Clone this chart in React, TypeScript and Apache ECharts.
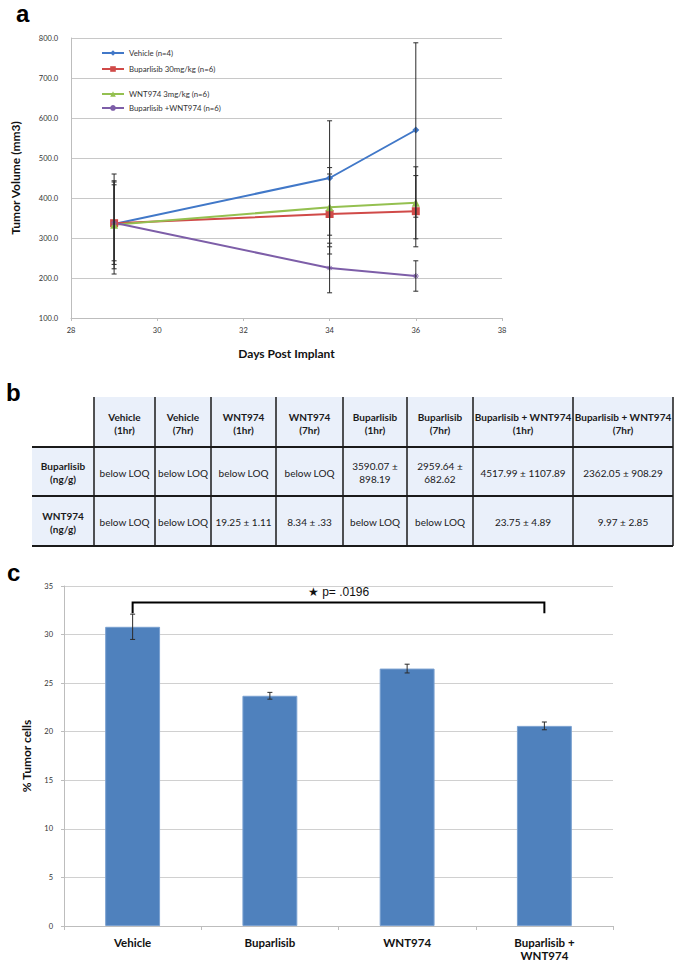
import React, { useEffect, useRef } from "react";
import * as echarts from "echarts";

// ---------- Panel a: tumour volume ----------
const days = [29, 34, 36];
const vehicleVol = [335, 450, 570];
const vehicleErr = [125, 143, 218];
const buparlisibVol = [337, 360, 367];
const buparlisibErr = [103, 100, 89];
const wnt974Vol = [333, 377, 388];
const wnt974Err = [110, 99, 90];
const comboVol = [338, 225, 205];
const comboErr = [95, 62, 38];
const lineNames = [
  "Vehicle (n=4)",
  "Buparlisib 30mg/kg (n=6)",
  "WNT974 3mg/kg (n=6)",
  "Buparlisib +WNT974 (n=6)",
];

// ---------- Panel b: table ----------
const tableHeaders = [
  "Vehicle\n(1hr)",
  "Vehicle\n(7hr)",
  "WNT974\n(1hr)",
  "WNT974\n(7hr)",
  "Buparlisib\n(1hr)",
  "Buparlisib\n(7hr)",
  "Buparlisib + WNT974\n(1hr)",
  "Buparlisib + WNT974\n(7hr)",
];
const rowHeaders = ["Buparlisib\n(ng/g)", "WNT974\n(ng/g)"];
const buparlisibRow = [
  "below LOQ",
  "below LOQ",
  "below LOQ",
  "below LOQ",
  "3590.07 ±\n898.19",
  "2959.64 ±\n682.62",
  "4517.99 ± 1107.89",
  "2362.05 ± 908.29",
];
const wnt974Row = [
  "below LOQ",
  "below LOQ",
  "19.25 ± 1.11",
  "8.34 ± .33",
  "below LOQ",
  "below LOQ",
  "23.75 ± 4.89",
  "9.97 ± 2.85",
];

// ---------- Panel c: % tumour cells ----------
const groups = ["Vehicle", "Buparlisib", "WNT974", "Buparlisib +\nWNT974"];
const tumorPct = [30.8, 23.7, 26.5, 20.6];
const tumorPctErr = [1.3, 0.35, 0.45, 0.4];
const sigFrom = 0;
const sigTo = 3;
const sigLevel = 33.3;
const sigDrop = 32.2;
const sigLabel = "★ p= .0196";

const FONT = "Lato, 'Open Sans', sans-serif";
const ARIAL = "'Liberation Sans', Arial, sans-serif";

function errRender(params: any, api: any) {
  const x = api.value(0);
  const y = api.value(1);
  const e = api.value(2);
  const top = api.coord([x, y + e]);
  const bot = api.coord([x, y - e]);
  const hw = 2.5;
  const st = { stroke: "#2b2b2b", lineWidth: 1 };
  return {
    type: "group",
    children: [
      { type: "line", shape: { x1: top[0], y1: top[1], x2: bot[0], y2: bot[1] }, style: st },
      { type: "line", shape: { x1: top[0] - hw, y1: top[1], x2: top[0] + hw, y2: top[1] }, style: st },
      { type: "line", shape: { x1: bot[0] - hw, y1: bot[1], x2: bot[0] + hw, y2: bot[1] }, style: st },
    ],
  };
}

function bracketRender(params: any, api: any) {
  const a0 = api.coord([api.value(0), api.value(3)]);
  const a1 = api.coord([api.value(0), api.value(2)]);
  const b1 = api.coord([api.value(1), api.value(2)]);
  const b0 = api.coord([api.value(1), api.value(3)]);
  const mid = (a1[0] + b1[0]) / 2;
  return {
    type: "group",
    children: [
      {
        type: "polyline",
        shape: { points: [a0, a1, b1, b0] },
        style: { stroke: "#000", lineWidth: 2, fill: "none" },
      },
      {
        type: "text",
        style: {
          text: sigLabel,
          x: mid,
          y: a1[1] - 5,
          align: "center",
          verticalAlign: "bottom",
          textAlign: "center",
          textVerticalAlign: "bottom",
          fontSize: 12,
          fontFamily: ARIAL,
          fill: "#111",
        },
      },
    ],
  };
}

function buildTable() {
  const colEdges = [32, 94, 155, 211, 276, 343, 407, 473, 573, 673];
  const rowEdges = [397, 447, 496, 546];
  const els: any[] = [];
  const rows = [buparlisibRow, wnt974Row];
  for (let r = 0; r < 3; r++) {
    for (let c = 0; c < 9; c++) {
      if (r === 0 && c === 0) continue;
      els.push({
        type: "rect",
        shape: {
          x: colEdges[c],
          y: rowEdges[r],
          width: colEdges[c + 1] - colEdges[c],
          height: rowEdges[r + 1] - rowEdges[r],
        },
        style: { fill: "#eaf0fa" },
      });
      let text = "";
      let bold = false;
      if (r === 0) {
        text = tableHeaders[c - 1];
        bold = true;
      } else if (c === 0) {
        text = rowHeaders[r - 1];
        bold = true;
      } else {
        text = rows[r - 1][c - 1];
      }
      els.push({
        type: "text",
        z: 10,
        style: {
          text,
          x: (colEdges[c] + colEdges[c + 1]) / 2,
          y: (rowEdges[r] + rowEdges[r + 1]) / 2 + 1,
          align: "center",
          verticalAlign: "middle",
          textAlign: "center",
          textVerticalAlign: "middle",
          fontSize: 10,
          lineHeight: 13,
          fontWeight: bold ? "bold" : "normal",
          fontFamily: FONT,
          fill: "#1a1a1a",
        },
      });
    }
  }
  for (let c = 1; c < colEdges.length; c++) {
    els.push({
      type: "line",
      z: 20,
      shape: { x1: colEdges[c], y1: rowEdges[0], x2: colEdges[c], y2: rowEdges[3] },
      style: { stroke: "#1a1a1a", lineWidth: 1.5 },
    });
  }
  for (let r = 1; r < rowEdges.length; r++) {
    els.push({
      type: "line",
      z: 20,
      shape: { x1: colEdges[0], y1: rowEdges[r], x2: colEdges[9], y2: rowEdges[r] },
      style: { stroke: "#1a1a1a", lineWidth: 2 },
    });
  }
  return els;
}

function panelLetter(t: string, x: number, y: number) {
  return {
    type: "text",
    style: {
      text: t,
      x,
      y,
      fontSize: 24,
      fontWeight: "bold",
      fontFamily: ARIAL,
      fill: "#000",
    },
  };
}

export default function App() {
  const ref = useRef<HTMLDivElement>(null);
  useEffect(() => {
    if (!ref.current) return;
    const chart = echarts.init(ref.current, null, { renderer: "svg" });
    const lineColors = ["#4178c8", "#d04a48", "#94c050", "#7d5ea8"];
    const lineVals = [vehicleVol, buparlisibVol, wnt974Vol, comboVol];
    const lineErrs = [vehicleErr, buparlisibErr, wnt974Err, comboErr];
    const symbols = [
      "diamond",
      "rect",
      "triangle",
      "path://M0,5L10,5M5,0L5,10M1.5,1.5L8.5,8.5M8.5,1.5L1.5,8.5",
    ];
    const symbolSizes = [7, 8, 8, 6];

    const series: any[] = [];
    lineVals.forEach((vals, i) => {
      series.push({
        type: "line",
        name: lineNames[i],
        xAxisIndex: 0,
        yAxisIndex: 0,
        data: days.map((d, k) => [d, vals[k]]),
        symbol: symbols[i],
        symbolSize: symbolSizes[i],
        showSymbol: true,
        lineStyle: { color: lineColors[i], width: 2 },
        itemStyle: {
          color: lineColors[i],
          borderColor: lineColors[i],
          borderWidth: i === 3 ? 1 : 0,
        },
        z: 3,
      });
    });
    lineVals.forEach((vals, i) => {
      series.push({
        type: "custom",
        xAxisIndex: 0,
        yAxisIndex: 0,
        data: days.map((d, k) => [d, vals[k], lineErrs[i][k]]),
        renderItem: errRender,
        z: 4,
        silent: true,
      });
    });
    series.push({
      type: "bar",
      xAxisIndex: 1,
      yAxisIndex: 1,
      data: tumorPct,
      barWidth: "40%",
      itemStyle: { color: "#4f81bd", borderColor: "#7aa0d0", borderWidth: 1 },
    });
    series.push({
      type: "custom",
      xAxisIndex: 1,
      yAxisIndex: 1,
      data: tumorPct.map((v, k) => [k, v, tumorPctErr[k]]),
      renderItem: errRender,
      z: 5,
    });
    series.push({
      type: "custom",
      xAxisIndex: 1,
      yAxisIndex: 1,
      data: [[sigFrom, sigTo, sigLevel, sigDrop]],
      renderItem: bracketRender,
      z: 5,
    });

    const axisLabelSmall = { fontSize: 7.5, color: "#333", fontFamily: FONT };
    const titleStyle = { fontSize: 12, fontWeight: "bold", color: "#111", fontFamily: FONT };

    chart.setOption({
      animation: false,
      backgroundColor: "#fff",
      grid: [
        { left: 71, top: 38, width: 431, height: 280 },
        { left: 64, top: 586, width: 549, height: 343 },
      ],
      legend: [
        {
          data: lineNames.slice(0, 2),
          orient: "vertical",
          left: 96,
          top: 44,
          itemWidth: 22,
          itemHeight: 7,
          itemGap: 8,
          textStyle: { fontSize: 7.8, color: "#333", fontFamily: FONT },
        },
        {
          data: lineNames.slice(2, 4),
          orient: "vertical",
          left: 96,
          top: 85,
          itemWidth: 22,
          itemHeight: 7,
          itemGap: 6,
          textStyle: { fontSize: 7.8, color: "#333", fontFamily: FONT },
        },
      ],
      xAxis: [
        {
          type: "value",
          gridIndex: 0,
          min: 28,
          max: 38,
          interval: 2,
          axisLine: { show: true, lineStyle: { color: "#bdbdbd" } },
          axisTick: { show: true, length: 3, lineStyle: { color: "#bdbdbd" } },
          splitLine: { show: false },
          axisLabel: { ...axisLabelSmall, margin: 8 },
          name: "Days Post Implant",
          nameLocation: "middle",
          nameGap: 29,
          nameTextStyle: titleStyle,
        },
        {
          type: "category",
          gridIndex: 1,
          data: groups,
          axisLine: { show: true, lineStyle: { color: "#bdbdbd" } },
          axisTick: { show: true, length: 4, lineStyle: { color: "#bdbdbd" } },
          axisLabel: {
            fontSize: 11.5,
            fontWeight: "bold",
            color: "#111",
            fontFamily: FONT,
            margin: 10,
            lineHeight: 13,
          },
        },
      ],
      yAxis: [
        {
          type: "value",
          gridIndex: 0,
          min: 100,
          max: 800,
          interval: 100,
          axisLine: { show: true, lineStyle: { color: "#bdbdbd" } },
          axisTick: { show: false },
          splitLine: { show: true, lineStyle: { color: "#c8c8c8", width: 1.2 } },
          axisLabel: { ...axisLabelSmall, margin: 13, formatter: (v: number) => v.toFixed(1) },
          name: "Tumor Volume (mm3)",
          nameLocation: "middle",
          nameRotate: 90,
          nameGap: 50,
          nameTextStyle: titleStyle,
        },
        {
          type: "value",
          gridIndex: 1,
          min: 0,
          max: 35,
          interval: 5,
          axisLine: { show: true, lineStyle: { color: "#bdbdbd" } },
          axisTick: { show: true, length: 3, lineStyle: { color: "#bdbdbd" } },
          splitLine: { show: true, lineStyle: { color: "#d0d0d0", width: 1.2 } },
          axisLabel: { ...axisLabelSmall, margin: 11 },
          name: "% Tumor cells",
          nameLocation: "middle",
          nameRotate: 90,
          nameGap: 32,
          nameTextStyle: titleStyle,
        },
      ],
      graphic: [
        panelLetter("a", 16, 1),
        panelLetter("b", 6, 380),
        panelLetter("c", 7, 560),
        ...buildTable(),
      ],
      series,
    });
    return () => chart.dispose();
  }, []);
  return (
    <div
      ref={ref}
      style={{ position: "absolute", left: 0, top: 0, width: 675, height: 962 }}
    />
  );
}
